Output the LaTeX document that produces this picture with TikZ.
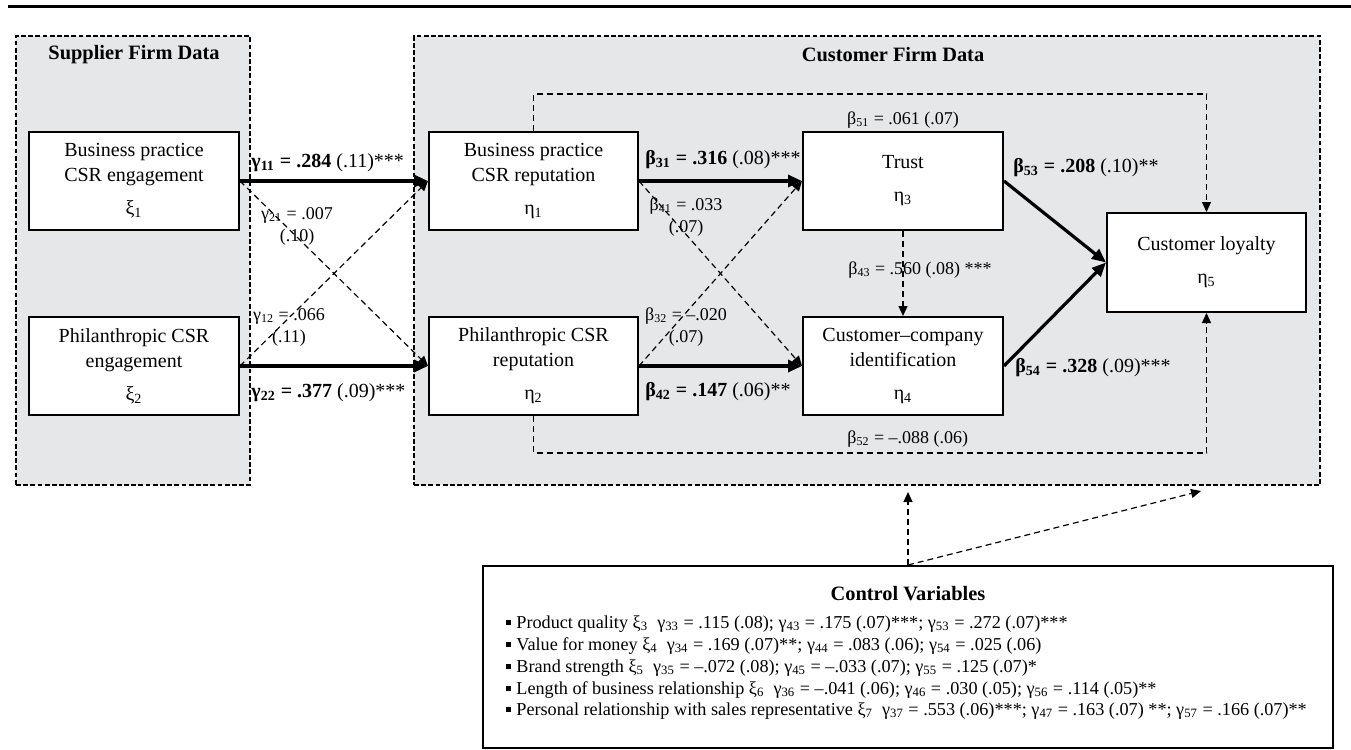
\documentclass[tikz,border=0pt]{standalone}
\usepackage{fontspec}
\setmainfont{Liberation Serif}
\usetikzlibrary{arrows.meta}
\definecolor{panelgray}{RGB}{230,231,232}
\newcommand\sbs[1]{\textsubscript{#1}}
\newcommand\sqb{\rule[0.35ex]{2.5pt}{2.5pt}\hspace{2.5pt}}
\begin{document}
\begin{tikzpicture}[x=0.5pt,y=-0.5pt,
  varbox/.style={draw=black, line width=1pt, fill=white, align=center, inner sep=0pt,
    font=\fontsize{10pt}{12.5pt}\selectfont},
  panelbox/.style={draw=black, fill=panelgray, line width=1.2pt, dash pattern=on 2.4pt off 1.2pt, inner sep=0pt},
  thickarrow/.style={line width=1.6pt, -{Triangle[length=7pt,width=6pt]}},
  dasharrow/.style={line width=0.6pt, dash pattern=on 3pt off 2pt, -{Triangle[length=5pt,width=4.5pt]}},
  lab/.style={inner sep=0pt, font=\fontsize{9pt}{11pt}\selectfont, align=center},
  blab/.style={inner sep=0pt, anchor=west, font=\fontsize{10pt}{12pt}\selectfont},
  ttl/.style={inner sep=0pt, font=\fontsize{10.2pt}{12pt}\selectfont\bfseries},
  cvline/.style={inner sep=0pt, anchor=base west, font=\fontsize{9.1pt}{10.9pt}\selectfont}
]
\useasboundingbox (0,0) rectangle (1351,750);
% top rule
\draw[line width=1.6pt] (8,6.5) -- (1351,6.5);

% panels
\node[panelbox, minimum width=117pt, minimum height=224.5pt] (sup) at (133,260.5) {};
\node[panelbox, minimum width=453pt, minimum height=224.5pt] (cust) at (867,260.5) {};
\node[ttl] (suptitle) at (134,55) {Supplier Firm Data};
\node[ttl] (custtitle) at (893,55) {Customer Firm Data};

% variable boxes
\node[varbox, minimum width=105pt, minimum height=49pt] (xi1) at (134,181)
  {Business practice\\CSR engagement\\[4pt]ξ\sbs{1}};
\node[varbox, minimum width=105pt, minimum height=49pt] (xi2) at (134,366)
  {Philanthropic CSR\\engagement\\[4pt]ξ\sbs{2}};
\node[varbox, minimum width=104.5pt, minimum height=49pt] (eta1) at (533.5,181)
  {Business practice\\CSR reputation\\[4pt]η\sbs{1}};
\node[varbox, minimum width=104.5pt, minimum height=49pt] (eta2) at (533.5,366)
  {Philanthropic CSR\\reputation\\[4pt]η\sbs{2}};
\node[varbox, minimum width=100pt, minimum height=49pt] (eta3) at (903,181)
  {Trust\\[4pt]η\sbs{3}};
\node[varbox, minimum width=100pt, minimum height=49pt] (eta4) at (903,366)
  {Customer–company\\identification\\[4pt]η\sbs{4}};
\node[varbox, minimum width=99.5pt, minimum height=49.5pt] (eta5) at (1206.5,262.5)
  {Customer loyalty\\[4pt]η\sbs{5}};

% connectors
\draw[dasharrow] (xi1.east) -- (eta2.west);
\draw[dasharrow] (xi2.east) -- (eta1.west);
\draw[thickarrow] (xi1.east) -- (eta1.west);
\draw[thickarrow] (xi2.east) -- (eta2.west);
\draw[dasharrow] (eta1.east) -- (eta4.west);
\draw[dasharrow] (eta2.east) -- (eta3.west);
\draw[thickarrow] (eta1.east) -- (eta3.west);
\draw[thickarrow] (eta2.east) -- (eta4.west);
\draw[thickarrow] (eta3.east) -- (eta5.west);
\draw[thickarrow] (eta4.east) -- (eta5.west);
\draw[dasharrow] (eta3.south) -- (eta4.north);
\draw[dasharrow] (eta1.north) -- ++(0,-37) -| (eta5.north);
\draw[dasharrow] (eta2.south) -- ++(0,37) -| (eta5.south);

% labels
\node[blab] (l11) at (251,163) {\textbf{γ\sbs{11} = .284} (.11)***};
\node[lab] (l21) at (297,226) {γ\sbs{21} = .007\\(.10)};
\node[lab] (l12) at (289,327.5) {γ\sbs{12} = .066\\(.11)};
\node[blab] (l22) at (251,393) {\textbf{γ\sbs{22} = .377} (.09)***};
\node[blab] (l31) at (645,160) {\textbf{β\sbs{31} = .316} (.08)***};
\node[lab] (l41) at (686,217.5) {β\sbs{41} = .033\\(.07)};
\node[lab] (l32) at (686,327.5) {β\sbs{32} = –.020\\(.07)};
\node[blab] (l42) at (645,392) {\textbf{β\sbs{42} = .147} (.06)**};
\node[lab] (l51) at (903,120) {β\sbs{51} = .061 (.07)};
\node[blab] (l53) at (1013,168) {\textbf{β\sbs{53} = .208} (.10)**};
\node[lab, anchor=west] (l43) at (848,270) {β\sbs{43} = .560 (.08) ***};
\node[blab] (l54) at (1015,368) {\textbf{β\sbs{54} = .328} (.09)***};
\node[lab, anchor=west] (l52) at (847,439) {β\sbs{52} = –.088 (.06)};

% control variables
\node[draw=black, line width=1pt, fill=white, minimum width=425pt, minimum height=91pt, inner sep=0pt] (ctrl) at (908,657) {};
\coordinate (c1) at (908,492);
\coordinate (c2) at (1201,491);
\draw[dasharrow] (ctrl.north) -- (c1);
\draw[dasharrow] (ctrl.north) -- (c2);
\node[ttl, anchor=base] (ctitle) at (908,600) {Control Variables};
\node[cvline] (cv1) at (506,628) {\sqb Product quality ξ\sbs{3}\enspace γ\sbs{33} = .115 (.08); γ\sbs{43} = .175 (.07)***; γ\sbs{53} = .272 (.07)***};
\node[cvline] (cv2) at (506,650) {\sqb Value for money ξ\sbs{4}\enspace γ\sbs{34} = .169 (.07)**; γ\sbs{44} = .083 (.06); γ\sbs{54} = .025 (.06)};
\node[cvline] (cv3) at (506,672) {\sqb Brand strength ξ\sbs{5}\enspace γ\sbs{35} = –.072 (.08); γ\sbs{45} = –.033 (.07); γ\sbs{55} = .125 (.07)*};
\node[cvline] (cv4) at (506,694) {\sqb Length of business relationship ξ\sbs{6}\enspace γ\sbs{36} = –.041 (.06); γ\sbs{46} = .030 (.05); γ\sbs{56} = .114 (.05)**};
\node[cvline] (cv5) at (506,715) {\sqb Personal relationship with sales representative ξ\sbs{7}\enspace γ\sbs{37} = .553 (.06)***; γ\sbs{47} = .163 (.07) **; γ\sbs{57} = .166 (.07)**};
\end{tikzpicture}
\end{document}
